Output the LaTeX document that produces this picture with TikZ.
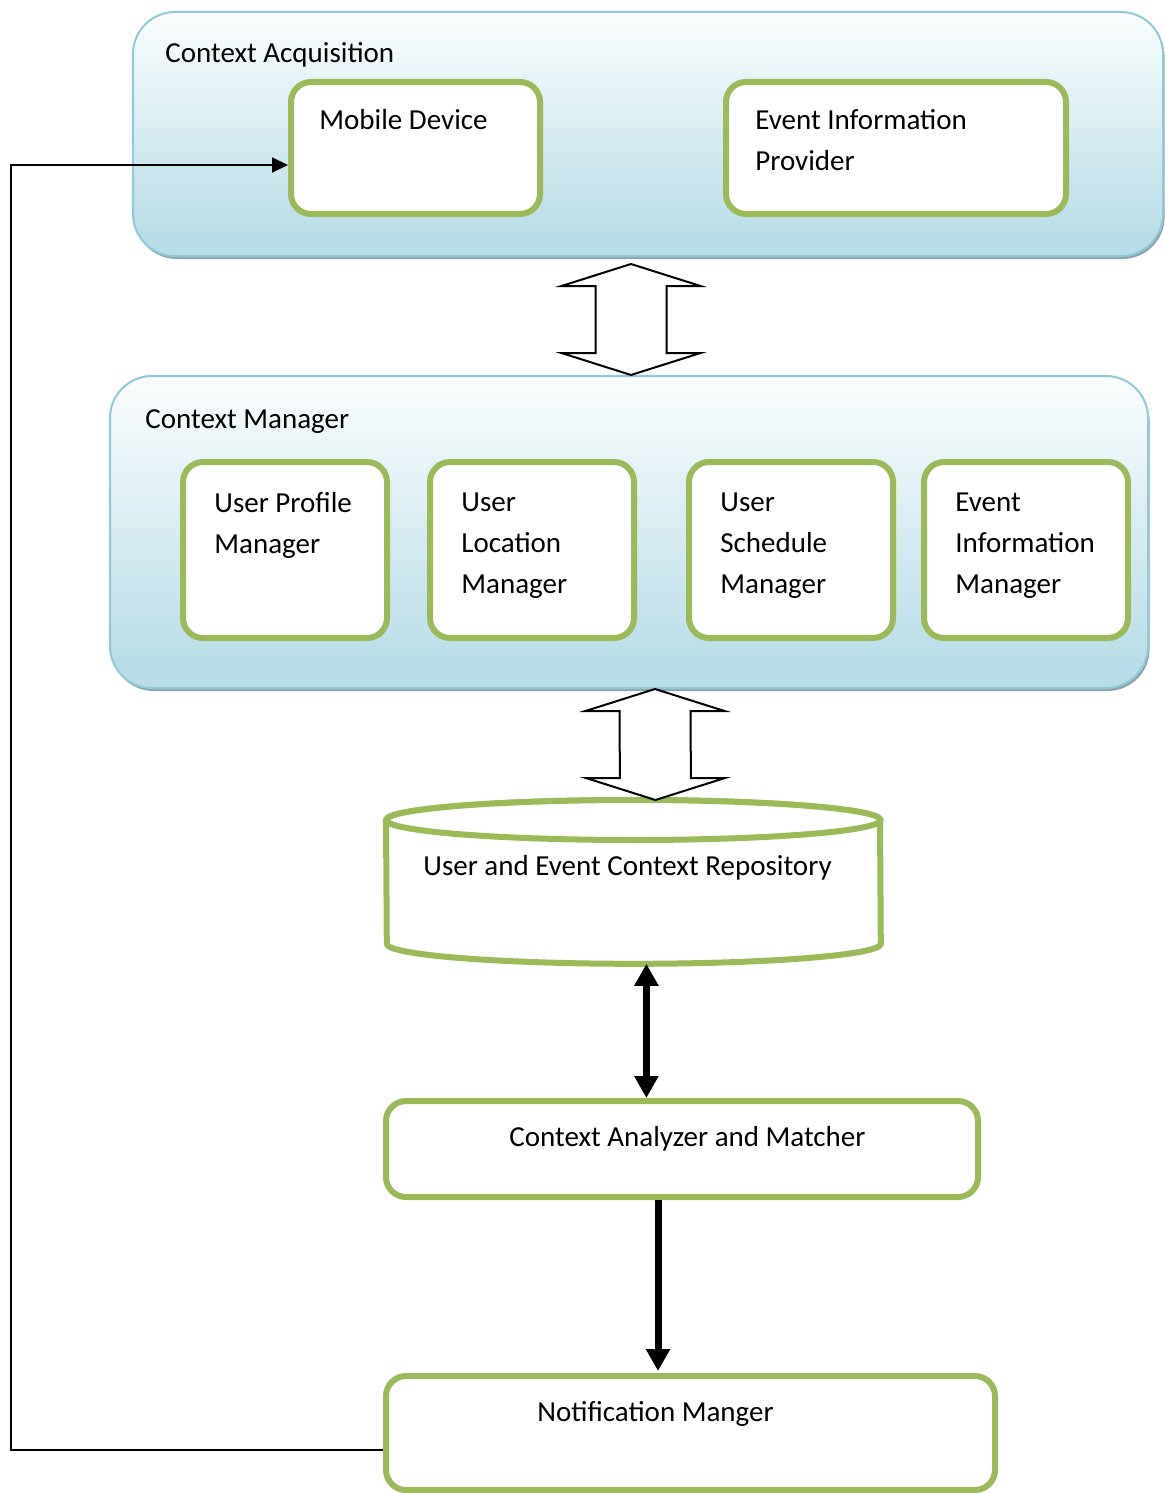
\documentclass[tikz,border=0pt]{standalone}
\usepackage{fontspec}
\setmainfont{Carlito}
\usepackage{tikz}
\usetikzlibrary{arrows.meta,calc,shadows}

\definecolor{leafgreen}{HTML}{9BBB59}
\definecolor{paneledge}{HTML}{8FCADB}
\definecolor{panelblue}{HTML}{B7DDE8}
\definecolor{panelshade}{HTML}{8CA6B0}

\pgfdeclareverticalshading{panelfade}{100bp}{color(0bp)=(panelblue); color(28bp)=(panelblue); color(78bp)=(white); color(100bp)=(white)}

\tikzset{
  panel/.style={draw=paneledge, line width=1pt, rounded corners=21pt, shading=panelfade,
    drop shadow={shadow xshift=0.8pt, shadow yshift=-1.5pt, fill=panelshade, opacity=1},
    anchor=north west, inner sep=0pt},
  box/.style={draw=leafgreen, line width=3pt, rounded corners=10pt, fill=white,
    anchor=north west, inner sep=0pt},
  txt/.style={inner sep=0pt, anchor=north west, align=left,
    font=\fontsize{14.5pt}{20.5pt}\selectfont},
  store/.style={draw=leafgreen, line width=3pt, fill=white},
  hollow/.style={draw=black, line width=1pt, fill=white, line join=miter},
  heavy/.style={line width=3.5pt, >={Triangle[width=11.5pt,length=11pt]}},
  feedback/.style={line width=1pt, >={Triangle[width=7.5pt,length=8pt]}}
}

% hollow two-headed block arrow from tip #1 down to tip #2
\newcommand\hollowarrow[2]{%
  \draw[hollow] (#1) -- ++(69.5,22) -- ++(-34,0) -- ($(#2)+(35.5,-22)$) -- ++(34,0)
    -- (#2) -- ++(-69.5,-22) -- ++(34,0) -- ($(#1)+(-35.5,22)$) -- ++(-34,0) -- cycle;}

\begin{document}
\begin{tikzpicture}[x=0.5pt, y=-0.5pt]
  \useasboundingbox (0,0) rectangle (1165,1493);

  % panels
  \node[panel, minimum width=515pt, minimum height=122pt] (acq) at (132,11) {};
  \node[panel, minimum width=519pt, minimum height=156pt] (mgr) at (109,375) {};
  \node[txt] (acq-l) at ([shift={(33,31)}]acq.north west) {Context Acquisition};
  \node[txt] (mgr-l) at ([shift={(36,34)}]mgr.north west) {Context Manager};

  % acquisition sources
  \node[box, minimum width=124.5pt, minimum height=66pt] (md) at (288,79) {};
  \node[box, minimum width=170pt, minimum height=66pt] (eip) at (723,79) {};
  \node[txt] (md-l) at ([shift={(31,30)}]md.north west) {Mobile Device};
  \node[txt] (eip-l) at ([shift={(32,30)}]eip.north west) {Event Information\\Provider};

  % managers
  \node[box, minimum width=102pt, minimum height=88pt] (upm) at (180,459) {};
  \node[box, minimum width=102pt, minimum height=88pt] (ulm) at (427,459) {};
  \node[box, minimum width=102pt, minimum height=88pt] (usm) at (686,459) {};
  \node[box, minimum width=102pt, minimum height=88pt] (eim) at (921,459) {};
  \node[txt] (upm-l) at ([shift={(34,33)}]upm.north west) {User Profile\\Manager};
  \node[txt] (ulm-l) at ([shift={(34,33)}]ulm.north west) {User\\Location\\Manager};
  \node[txt] (usm-l) at ([shift={(34,33)}]usm.north west) {User\\Schedule\\Manager};
  \node[txt] (eim-l) at ([shift={(34,33)}]eim.north west) {Event\\Information\\Manager};

  % repository
  \node[inner sep=0pt, minimum width=247pt, minimum height=81.5pt, anchor=north west] (repo) at (386,800) {};
  \draw[store] ([yshift=-10pt]repo.north west) arc[start angle=180, end angle=0, x radius=123.5pt, y radius=10pt]
    -- ([yshift=10pt]repo.south east) arc[start angle=0, end angle=-180, x radius=123.5pt, y radius=10pt] -- cycle;
  \draw[store] ([yshift=-10pt]repo.north) ellipse [x radius=123.5pt, y radius=10pt];
  \node[txt] (repo-l) at ([shift={(37,55)}]repo.north west) {User and Event Context Repository};

  % matcher and notifier
  \node[box, minimum width=296pt, minimum height=48pt] (cam) at (383,1098) {};
  \node[box, minimum width=304.5pt, minimum height=57pt] (nm) at (383,1373) {};
  \node[txt] (cam-l) at ([shift={(126,28)}]cam.north west) {Context Analyzer and Matcher};
  \node[txt] (nm-l) at ([shift={(154,28)}]nm.north west) {Notification Manger};

  % block arrows between the layers
  \coordinate (a1t) at ([xshift=-8.5pt,yshift=-3.5pt]acq.south);
  \coordinate (a1b) at ([xshift=1pt]mgr.north);
  \hollowarrow{a1t}{a1b}
  \coordinate (a2t) at ([xshift=13pt]mgr.south);
  \coordinate (a2b) at ([xshift=11pt]repo.north);
  \hollowarrow{a2t}{a2b}

  % data flow
  \coordinate (repo-out) at ([xshift=6.5pt]repo.south);
  \draw[heavy, <->] (repo-out) -- (repo-out |- cam.north);
  \coordinate (cam-out) at ([xshift=-12pt]cam.south);
  \draw[heavy, ->, shorten >=1pt] (cam-out) -- (cam-out |- nm.north);
  \coordinate (nm-out) at ([yshift=-8.5pt]nm.west);
  \coordinate (md-in) at ([yshift=-8.5pt]md.west);
  \draw[feedback, ->] (nm-out) -- ++(-372,0) |- (md-in);
\end{tikzpicture}
\end{document}
